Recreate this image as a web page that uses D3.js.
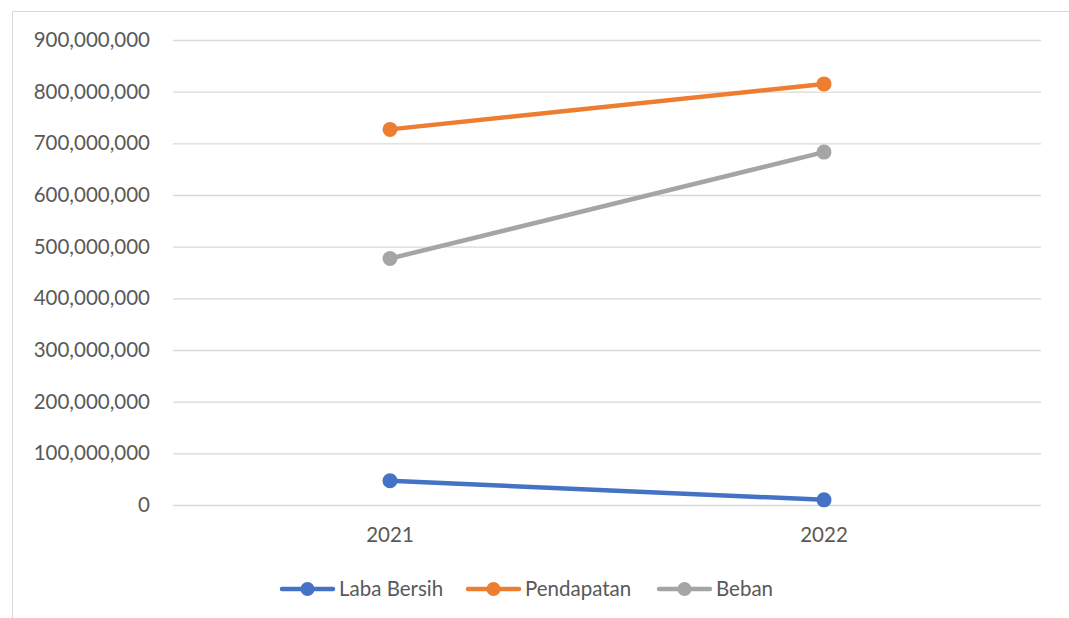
<!DOCTYPE html>
<html>
<head>
<meta charset="utf-8">
<script src="https://cdn.jsdelivr.net/npm/d3@7"></script>
<style>
  html, body { margin: 0; padding: 0; background: #fff; }
  svg { display: block; }
</style>
</head>
<body>
<svg id="chart" width="1069" height="618"></svg>
<script>
// Annual figures (Rupiah)
const years = ["2021", "2022"];
const labaBersih = [47000000, 10000000];
const pendapatan = [727000000, 815000000];
const beban = [477000000, 683000000];
const yTicks = [0, 100000000, 200000000, 300000000, 400000000, 500000000,
                600000000, 700000000, 800000000, 900000000];

const series = [
  { name: "Laba Bersih", values: labaBersih, color: "#4472C4" },
  { name: "Pendapatan", values: pendapatan, color: "#ED7D31" },
  { name: "Beban", values: beban, color: "#A5A5A5" }
];

const font = "Lato, 'Open Sans', sans-serif";
const fontSize = 20.5;
const svg = d3.select("#chart");

// Chart area frame
svg.append("rect")
  .attr("x", 12.5).attr("y", 11.5)
  .attr("width", 1070).attr("height", 620)
  .attr("fill", "none").attr("stroke", "#D9D9D9").attr("stroke-width", 1);

const plot = { left: 173, right: 1041, top: 40, bottom: 505 };

const x = d3.scaleBand().domain(years).range([plot.left, plot.right]);
const y = d3.scaleLinear().domain([0, 900000000]).range([plot.bottom, plot.top]);

// Gridlines and y labels
const yAxis = d3.axisLeft(y).tickValues(yTicks)
  .tickFormat(d3.format(",")).tickSize(-(plot.right - plot.left)).tickPadding(23);
const gy = svg.append("g").attr("transform", `translate(${plot.left},0)`).call(yAxis);
gy.select(".domain").remove();
gy.selectAll(".tick line").attr("stroke", "#D9D9D9").attr("stroke-width", 1.3);
gy.selectAll(".tick text")
  .attr("fill", "#595959").attr("font-family", font).attr("font-size", fontSize);

// Category labels
const xAxis = d3.axisBottom(x).tickSize(0).tickPadding(22);
const gx = svg.append("g").attr("transform", `translate(0,${plot.bottom})`).call(xAxis);
gx.select(".domain").remove();
gx.selectAll(".tick text")
  .attr("fill", "#595959").attr("font-family", font).attr("font-size", fontSize);

const cx = d => x(d) + x.bandwidth() / 2;
const line = d3.line().x((d, i) => cx(years[i])).y(d => y(d));

series.forEach(s => {
  svg.append("path")
    .datum(s.values)
    .attr("d", line)
    .attr("fill", "none")
    .attr("stroke", s.color)
    .attr("stroke-width", 4.5)
    .attr("stroke-linecap", "round");
  svg.selectAll(null)
    .data(s.values)
    .enter().append("circle")
    .attr("cx", (d, i) => cx(years[i]))
    .attr("cy", d => y(d))
    .attr("r", 7.5)
    .attr("fill", s.color);
});

// Legend
const legendY = 589;
const legendX = [282, 468, 659];
series.forEach((s, i) => {
  const g = svg.append("g").attr("transform", `translate(${legendX[i]},${legendY})`);
  g.append("line").attr("x1", 0).attr("x2", 51).attr("y1", 0).attr("y2", 0)
    .attr("stroke", s.color).attr("stroke-width", 4.5).attr("stroke-linecap", "round");
  g.append("circle").attr("cx", 25.5).attr("cy", 0).attr("r", 7).attr("fill", s.color);
  g.append("text").attr("x", 57).attr("y", 0).attr("dy", "0.35em")
    .attr("fill", "#595959").attr("font-family", font).attr("font-size", fontSize)
    .text(s.name);
});
</script>
</body>
</html>
